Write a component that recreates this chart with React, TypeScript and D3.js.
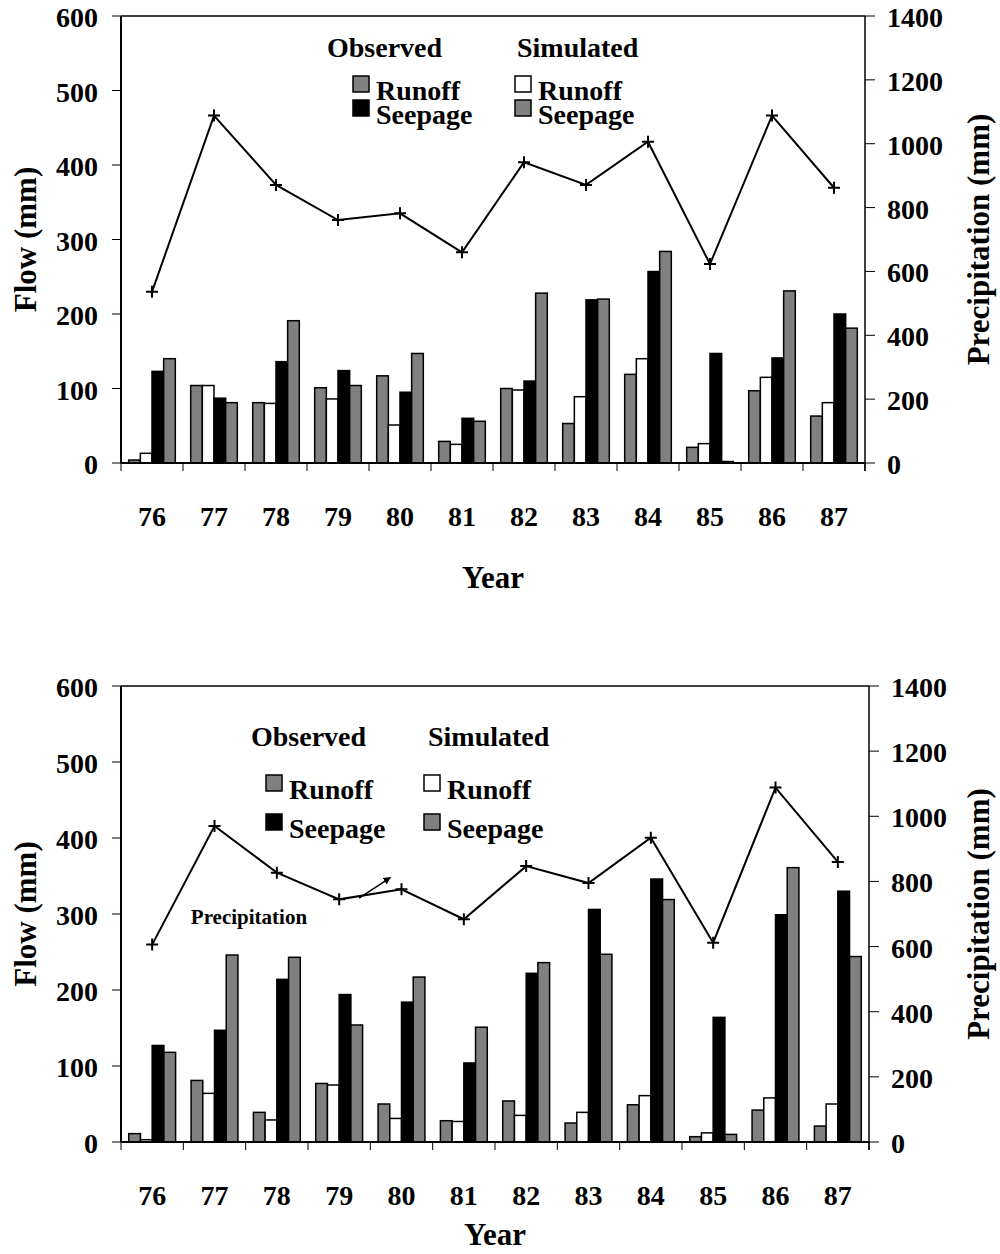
import React from "react";
import * as d3 from "d3";

const years = ["76", "77", "78", "79", "80", "81", "82", "83", "84", "85", "86", "87"];
const flowTicks = [0, 100, 200, 300, 400, 500, 600];
const precipTicks = [0, 200, 400, 600, 800, 1000, 1200, 1400];

// Top chart
const topObsRunoff = [4, 104, 81, 101, 117, 29, 100, 53, 119, 21, 97, 63];
const topSimRunoff = [13, 104, 80, 86, 51, 25, 98, 89, 140, 26, 115, 81];
const topObsSeepage = [123, 87, 136, 124, 95, 60, 110, 219, 257, 147, 141, 200];
const topSimSeepage = [140, 81, 191, 104, 147, 56, 228, 220, 284, 2, 231, 181];
const topPrecip = [536, 1088, 871, 761, 782, 660, 942, 871, 1006, 623, 1088, 862];

// Bottom chart
const botObsRunoff = [11, 81, 39, 77, 50, 28, 54, 25, 49, 7, 42, 21];
const botSimRunoff = [3, 64, 29, 75, 31, 27, 35, 39, 61, 12, 58, 50];
const botObsSeepage = [127, 147, 214, 194, 184, 104, 222, 306, 346, 164, 299, 330];
const botSimSeepage = [118, 246, 243, 154, 217, 151, 236, 247, 319, 10, 361, 244];
const botPrecip = [606, 970, 827, 745, 776, 684, 847, 795, 934, 612, 1088, 860];

const seriesKeys = ["obsRunoff", "simRunoff", "obsSeepage", "simSeepage"];
const seriesFill: Record<string, string> = {
  obsRunoff: "#808080",
  simRunoff: "#ffffff",
  obsSeepage: "#000000",
  simSeepage: "#808080",
};

const FONT = "'Liberation Serif', 'Times New Roman', serif";

type ChartProps = {
  x0: number;
  x1: number;
  yTop: number;
  yBase: number;
  series: Record<string, number[]>;
  precip: number[];
  legend: {
    obsTitleX: number;
    simTitleX: number;
    titleY: number;
    obsBoxX: number;
    simBoxX: number;
    runoffBoxY: number;
    seepBoxY: number;
    boxSize: number;
    runoffTextY: number;
    seepTextY: number;
  };
  yearY: number;
  annotate?: boolean;
};

function Chart({ x0, x1, yTop, yBase, series, precip, legend, yearY, annotate }: ChartProps) {
  const x = d3.scaleBand<string>().domain(years).range([x0, x1]).paddingInner(0).paddingOuter(0);
  const bw = x.bandwidth();
  const inner = d3.scaleBand<string>().domain(seriesKeys).range([0, bw]).paddingInner(0).paddingOuter(0.66);
  const yFlow = d3.scaleLinear().domain([0, 600]).range([yBase, yTop]);
  const yPrec = d3.scaleLinear().domain([0, 1400]).range([yBase, yTop]);
  const xIdx = d3.scaleLinear().domain([0, years.length]).range([x0, x1]);

  const line = d3
    .line<number>()
    .x((_, i) => (x(years[i]) as number) + bw / 2)
    .y((d) => yPrec(d));

  const boundaries = d3.range(years.length + 1).map((i) => xIdx(i));
  const fs = 28;
  const ts = 31;

  return (
    <g fontFamily={FONT} fontWeight="bold" fill="#000">
      {/* bars */}
      {seriesKeys.map((k) =>
        series[k].map((v, i) => (
          <rect
            key={k + i}
            x={(x(years[i]) as number) + (inner(k) as number)}
            y={yFlow(v)}
            width={inner.bandwidth()}
            height={yBase - yFlow(v)}
            fill={seriesFill[k]}
            stroke="#000"
            strokeWidth={1.5}
          />
        ))
      )}
      {/* frame */}
      <line x1={x0} x2={x1} y1={yTop} y2={yTop} stroke="#000" strokeWidth={1.5} />
      <line x1={x0} x2={x0} y1={yTop} y2={yBase} stroke="#000" strokeWidth={2} />
      <line x1={x1} x2={x1} y1={yTop} y2={yBase + 8} stroke="#000" strokeWidth={1.5} />
      <line x1={x0} x2={x1} y1={yBase} y2={yBase} stroke="#000" strokeWidth={2} />
      {/* x ticks */}
      {boundaries.map((bx, i) => (
        <line key={"xt" + i} x1={bx} x2={bx} y1={yBase} y2={yBase + 8} stroke="#000" strokeWidth={1} />
      ))}
      {years.map((yr) => (
        <text key={"xl" + yr} x={(x(yr) as number) + bw / 2} y={yBase + 63} textAnchor="middle" fontSize={fs}>
          {yr}
        </text>
      ))}
      {/* left ticks */}
      {flowTicks.map((t) => (
        <g key={"lf" + t}>
          <line x1={x0 - 9} x2={x0} y1={yFlow(t)} y2={yFlow(t)} stroke="#000" strokeWidth={1} />
          <text x={x0 - 23} y={yFlow(t) + 11} textAnchor="end" fontSize={fs}>
            {t}
          </text>
        </g>
      ))}
      {/* right ticks */}
      {precipTicks.map((t) => (
        <g key={"rt" + t}>
          <line x1={x1} x2={x1 + 10} y1={yPrec(t)} y2={yPrec(t)} stroke="#000" strokeWidth={1} />
          <text x={x1 + 22} y={yPrec(t) + 11} textAnchor="start" fontSize={fs}>
            {t}
          </text>
        </g>
      ))}
      {/* axis titles */}
      <text
        transform={`translate(${36},${(yTop + yBase) / 2}) rotate(-90)`}
        textAnchor="middle"
        fontSize={ts}
      >
        Flow (mm)
      </text>
      <text
        transform={`translate(${989},${(yTop + yBase) / 2}) rotate(-90)`}
        textAnchor="middle"
        fontSize={ts}
      >
        Precipitation (mm)
      </text>
      <text x={(x0 + x1) / 2} y={yearY} textAnchor="middle" fontSize={ts}>
        Year
      </text>
      {/* precipitation line */}
      <path d={line(precip) || ""} fill="none" stroke="#000" strokeWidth={2} />
      {precip.map((p, i) => {
        const cx = (x(years[i]) as number) + bw / 2;
        const cy = yPrec(p);
        return (
          <path
            key={"pm" + i}
            d={`M${cx - 6},${cy}H${cx + 6}M${cx},${cy - 6}V${cy + 6}`}
            stroke="#000"
            strokeWidth={2}
          />
        );
      })}
      {/* legend */}
      <text x={legend.obsTitleX} y={legend.titleY} fontSize={fs}>
        Observed
      </text>
      <text x={legend.simTitleX} y={legend.titleY} fontSize={fs}>
        Simulated
      </text>
      <rect x={legend.obsBoxX} y={legend.runoffBoxY} width={legend.boxSize} height={legend.boxSize} fill={seriesFill.obsRunoff} stroke="#000" strokeWidth={1.5} />
      <rect x={legend.obsBoxX} y={legend.seepBoxY} width={legend.boxSize} height={legend.boxSize} fill={seriesFill.obsSeepage} stroke="#000" strokeWidth={1.5} />
      <rect x={legend.simBoxX} y={legend.runoffBoxY} width={legend.boxSize} height={legend.boxSize} fill={seriesFill.simRunoff} stroke="#000" strokeWidth={1.5} />
      <rect x={legend.simBoxX} y={legend.seepBoxY} width={legend.boxSize} height={legend.boxSize} fill={seriesFill.simSeepage} stroke="#000" strokeWidth={1.5} />
      <text x={legend.obsBoxX + legend.boxSize + 7} y={legend.runoffTextY} fontSize={fs}>
        Runoff
      </text>
      <text x={legend.obsBoxX + legend.boxSize + 7} y={legend.seepTextY} fontSize={fs}>
        Seepage
      </text>
      <text x={legend.simBoxX + legend.boxSize + 7} y={legend.runoffTextY} fontSize={fs}>
        Runoff
      </text>
      <text x={legend.simBoxX + legend.boxSize + 7} y={legend.seepTextY} fontSize={fs}>
        Seepage
      </text>
      {annotate && (
        <g>
          <text x={xIdx(1.12)} y={yPrec(670)} fontSize={21}>
            Precipitation
          </text>
          <defs>
            <marker id="arrowhead" viewBox="0 0 10 10" refX="9" refY="5" markerWidth="5" markerHeight="5" orient="auto">
              <path d="M0,0L10,5L0,10z" fill="#000" />
            </marker>
          </defs>
          <line
            x1={xIdx(3.82)}
            y1={yPrec(749)}
            x2={xIdx(4.32)}
            y2={yPrec(812)}
            stroke="#000"
            strokeWidth={1.5}
            markerEnd="url(#arrowhead)"
          />
        </g>
      )}
    </g>
  );
}

export default function App() {
  return (
    <svg
      width={1000}
      height={1254}
      viewBox="0 0 1000 1254"
      style={{ position: "absolute", left: 0, top: 0, background: "#fff" }}
    >
      <rect x={0} y={0} width={1000} height={1254} fill="#fff" />
      <Chart
        x0={121}
        x1={865}
        yTop={16}
        yBase={463}
        series={{
          obsRunoff: topObsRunoff,
          simRunoff: topSimRunoff,
          obsSeepage: topObsSeepage,
          simSeepage: topSimSeepage,
        }}
        precip={topPrecip}
        legend={{
          obsTitleX: 327,
          simTitleX: 517,
          titleY: 57,
          obsBoxX: 353,
          simBoxX: 515,
          runoffBoxY: 76,
          seepBoxY: 100,
          boxSize: 16,
          runoffTextY: 100,
          seepTextY: 124,
        }}
        yearY={588}
      />
      <Chart
        x0={121}
        x1={869}
        yTop={686}
        yBase={1142}
        series={{
          obsRunoff: botObsRunoff,
          simRunoff: botSimRunoff,
          obsSeepage: botObsSeepage,
          simSeepage: botSimSeepage,
        }}
        precip={botPrecip}
        legend={{
          obsTitleX: 251,
          simTitleX: 428,
          titleY: 746,
          obsBoxX: 266,
          simBoxX: 424,
          runoffBoxY: 775,
          seepBoxY: 814,
          boxSize: 16,
          runoffTextY: 799,
          seepTextY: 838,
        }}
        yearY={1245}
        annotate
      />
    </svg>
  );
}
